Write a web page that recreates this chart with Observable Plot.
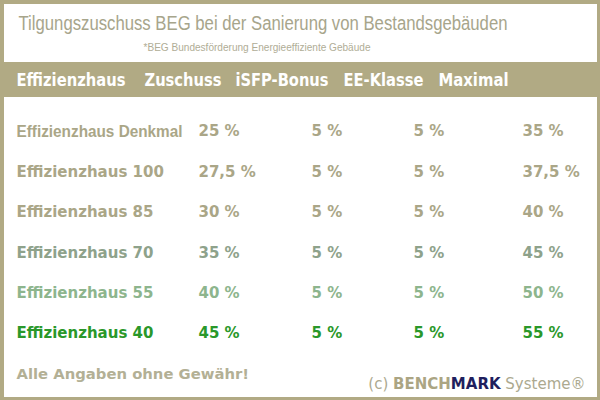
<!DOCTYPE html>
<html>
<head>
<meta charset="utf-8">
<script src="https://cdn.jsdelivr.net/npm/d3@7"></script>
<script src="https://cdn.jsdelivr.net/npm/@observablehq/plot@0.6"></script>
<style>
  html, body { margin: 0; padding: 0; background: #fff; }
  #chart svg { display: block; }
</style>
</head>
<body>
<div id="chart"></div>
<script>
// ---- data ----
const title = "Tilgungszuschuss BEG bei der Sanierung von Bestandsgebäuden";
const subtitle = "*BEG Bundesförderung Energieeffiziente Gebäude";
const headers = ["Effizienzhaus", "Zuschuss", "iSFP-Bonus", "EE-Klasse", "Maximal"];
const houses = ["Effizienzhaus Denkmal", "Effizienzhaus 100", "Effizienzhaus 85", "Effizienzhaus 70", "Effizienzhaus 55", "Effizienzhaus 40"];
const zuschuss = ["25 %", "27,5 %", "30 %", "35 %", "40 %", "45 %"];
const isfpBonus = ["5 %", "5 %", "5 %", "5 %", "5 %", "5 %"];
const eeKlasse = ["5 %", "5 %", "5 %", "5 %", "5 %", "5 %"];
const maximal = ["35 %", "37,5 %", "40 %", "45 %", "50 %", "55 %"];
const note = "Alle Angaben ohne Gewähr!";
const footer = "(c) BENCHMARK Systeme®";

// ---- layout & style ----
const tan = "#b1aa84";
const rowColors = ["#aaa687", "#aaa687", "#aaa687", "#8ea28b", "#8db58d", "#2a982a"];
const headerX = [16, 144, 235, 343, 438];
const headerW = [109, 77, 93, 80, 70];
const colX = [16, 198, 311, 413, 522];
const rowTop = 131, rowStep = 40.4;
const font = "'DejaVu Sans', Verdana, sans-serif";
const narrowBold = "'Liberation Sans', Arial, sans-serif";
// fitted text widths (layout)
const fitWidths = new Map([
  [title, 489],
  [subtitle, 227],
  [houses[0], 166],
  ...headers.map((h, i) => [h, headerW[i]])
]);

const columns = [houses, zuschuss, isfpBonus, eeKlasse, maximal];
const cells = [];
columns.forEach((col, j) => col.forEach((v, i) => cells.push({col: j, row: i, text: v})));
const isNarrow = d => d.col === 0 && d.row === 0;

const chart = Plot.plot({
  width: 600,
  height: 400,
  margin: 0,
  x: {domain: [0, 600], range: [0, 600], axis: null},
  y: {domain: [0, 400], range: [0, 400], axis: null},
  style: {background: "#fff", fontFamily: font},
  marks: [
    Plot.rect([0], {x1: 0, x2: 600, y1: 62, y2: 97, fill: tan}),
    Plot.text([title], {text: d => d, x: 262.5, y: 23, fontSize: 19.5, fill: "#a7a58b", fontFamily: "'Liberation Sans', Tahoma, sans-serif"}),
    Plot.text([subtitle], {text: d => d, x: 256.5, y: 47, fontSize: 11.5, fill: "#b0ad96", fontFamily: "'Liberation Sans Narrow', 'Liberation Sans', sans-serif"}),
    Plot.text(headers, {text: d => d, x: (d, i) => headerX[i], y: 80, textAnchor: "start", fontSize: 17, fontWeight: "bold", fill: "#fff"}),
    Plot.text(cells.filter(d => !isNarrow(d)), {
      text: "text",
      x: d => colX[d.col],
      y: d => rowTop + d.row * rowStep,
      textAnchor: "start",
      fontSize: 15,
      fontWeight: "bold",
      fill: d => rowColors[d.row]
    }),
    Plot.text(cells.filter(isNarrow), {
      text: "text",
      x: d => colX[d.col],
      y: d => rowTop + d.row * rowStep,
      textAnchor: "start",
      fontSize: 16.5,
      fontWeight: "bold",
      fontFamily: narrowBold,
      fill: d => rowColors[d.row]
    }),
    Plot.text([note], {text: d => d, x: 16, y: 374, textAnchor: "start", fontSize: 14.8, fontWeight: "bold", fill: "#b3b095"}),
    Plot.text([footer], {text: d => d, x: 585, y: 384, textAnchor: "end", fontSize: 15, fill: "#aca98f"}),
    Plot.frame({stroke: tan, strokeWidth: 7})
  ]
});
document.getElementById("chart").appendChild(chart);

const svg = d3.select(chart);
svg.selectAll("text").each(function() {
  const t = d3.select(this);
  const s = t.text();
  if (fitWidths.has(s)) {
    t.attr("textLength", fitWidths.get(s)).attr("lengthAdjust", "spacingAndGlyphs");
  }
  if (s === footer) {
    t.text(null);
    t.append("tspan").text("(c) ");
    t.append("tspan").attr("font-weight", "bold").attr("fill", "#aba583").text("BENCH");
    t.append("tspan").attr("font-weight", "bold").attr("fill", "#1f1f5e").text("MARK");
    t.append("tspan").text(" Systeme®");
  }
});
</script>
</body>
</html>
